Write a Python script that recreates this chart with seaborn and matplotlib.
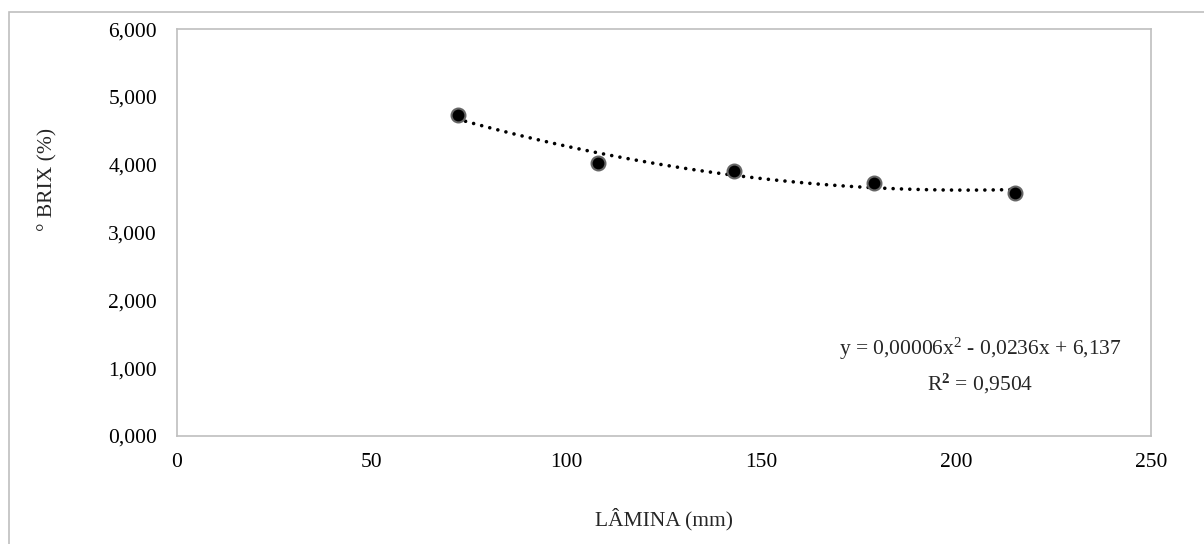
import pandas as pd
import matplotlib.pyplot as plt
import seaborn as sns
from matplotlib.patches import Rectangle
from matplotlib.ticker import FuncFormatter

# values
lamina = [72, 108, 143, 179, 215]
brix = [4.74, 4.02, 3.91, 3.73, 3.59]
x_ticks = [0, 50, 100, 150, 200, 250]
y_ticks = [0, 1, 2, 3, 4, 5, 6]
eq_text = "y = 0,00006x$^{2}$ - 0,0236x + 6,137\nR$^{\\mathbf{2}}$ = 0,9504"

Data = pd.DataFrame({'LAMINA': lamina, 'BRIX': brix})

sns.set_style('white')
plt.rcParams['font.family'] = ['Liberation Serif', 'DejaVu Serif']
plt.rcParams['mathtext.fontset'] = 'custom'
plt.rcParams['mathtext.rm'] = 'Liberation Serif'
plt.rcParams['mathtext.it'] = 'Liberation Serif'
plt.rcParams['mathtext.bf'] = 'Liberation Serif:bold'

fs = 15.5
fig = plt.figure(figsize=(12.04, 5.44), dpi=100)
ax = fig.add_axes([0.147, 0.1985, 0.809, 0.748])

# polynomial (order 2) trend line, dotted
sns.regplot(data=Data, x='LAMINA', y='BRIX', order=2, ci=None, scatter=False, ax=ax,
            line_kws=dict(color='black', lw=2.6, linestyle=(0, (0.01, 2.3)),
                          dash_capstyle='round'))
sns.scatterplot(data=Data, x='LAMINA', y='BRIX', ax=ax, s=100, color='black',
                edgecolor='#666666', linewidth=1.5, zorder=3)

ax.set_xlim(0, 250)
ax.set_ylim(0, 6)
ax.set_xticks(x_ticks)
ax.set_yticks(y_ticks)
ax.yaxis.set_major_formatter(FuncFormatter(lambda v, p: f"{v:.3f}".replace('.', ',')))
ax.tick_params(axis='both', length=0, labelsize=fs, colors='black')
ax.tick_params(axis='y', pad=14.4)
ax.tick_params(axis='x', pad=12)

ax.set_xlabel('LÂMINA (mm)', fontsize=fs)
ax.set_ylabel('° BRIX (%)', fontsize=fs)
ax.xaxis.set_label_coords(0.5, -0.177)
ax.yaxis.set_label_coords(-0.123, 0.63)

for s in ax.spines.values():
    s.set_color('#BFBFBF')
    s.set_linewidth(1.2)

ax.text(0.8245, 0.172, eq_text, transform=ax.transAxes, ha='center', va='center',
        multialignment='center', fontsize=fs, linespacing=1.55)

# outer chart border
fig.patches.append(Rectangle((9 / 1204, -0.02), 1.05, 1 - 12 / 544 + 0.02,
                             transform=fig.transFigure, fill=False,
                             edgecolor='#BFBFBF', linewidth=1.2))

plt.savefig('out.png', dpi=100)
